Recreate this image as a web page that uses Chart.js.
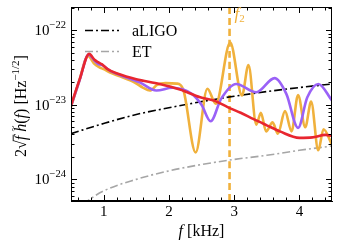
<!DOCTYPE html>
<html>
<head>
<meta charset="utf-8">
<script src="https://cdn.jsdelivr.net/npm/chart.js@4.4.0/dist/chart.umd.min.js"></script>
<style>
  html, body { margin: 0; padding: 0; background: #fff; }
  #wrap { width: 340px; height: 249px; }
</style>
</head>
<body>
<div id="wrap"><canvas id="chart" width="340" height="249"></canvas></div>
<script>
// frequency in kHz, amplitude 2*sqrt(f)*|h(f)| in Hz^-1/2
const redFreq = [0.5, 0.63, 0.78, 0.86, 0.92, 0.97, 1.06, 1.22, 1.5, 1.86, 2.17, 2.48, 2.69, 2.9, 3.1, 3.3, 3.5, 3.7, 4.0, 4.2, 4.4, 4.5];
const redAmp = [9.8e-24, 2.15e-23, 4.8e-23, 4.0e-23, 3.7e-23, 3.5e-23, 3.0e-23, 2.6e-23, 2.2e-23, 1.9e-23, 1.6e-23, 1.26e-23, 1.14e-23, 9.3e-24, 7.8e-24, 6.4e-24, 5.3e-24, 4.4e-24, 3.6e-24, 3.65e-24, 3.95e-24, 3.8e-24];

const purpleFreq = [0.5, 0.63, 0.77, 0.86, 0.92, 0.98, 1.1, 1.25, 1.55, 1.81, 2.05, 2.35, 2.5, 2.64, 2.8, 3.03, 3.34, 3.62, 3.8, 3.98, 4.12, 4.29, 4.5];
const purpleAmp = [9.6e-24, 2.1e-23, 4.7e-23, 3.9e-23, 3.5e-23, 3.4e-23, 2.85e-23, 2.5e-23, 2.0e-23, 1.55e-23, 1.69e-23, 1.4e-23, 1.0e-23, 6.0e-24, 1.2e-23, 1.9e-23, 1.47e-23, 2.27e-23, 1.4e-23, 4.9e-24, 1.25e-23, 1.9e-23, 1.14e-23];

const orangeFreq = [0.5, 0.62, 0.76, 0.85, 0.93, 1.0, 1.1, 1.25, 1.47, 1.6, 1.71, 1.82, 1.95, 2.12, 2.22, 2.41, 2.59, 2.72, 2.94, 3.12, 3.22, 3.34, 3.41, 3.49, 3.59, 3.67, 3.78, 3.88, 3.98, 4.09, 4.18, 4.29, 4.37, 4.5];
const orangeAmp = [9.4e-24, 2.0e-23, 4.5e-23, 3.6e-23, 3.2e-23, 3.0e-23, 2.7e-23, 2.4e-23, 2.0e-23, 1.7e-23, 1.55e-23, 1.85e-23, 1.95e-23, 1.92e-23, 1.6e-23, 2.3e-24, 1.64e-23, 1.03e-23, 6.8e-23, 1.33e-23, 3.4e-23, 5.4e-24, 7.8e-24, 4.4e-24, 5.8e-24, 4.1e-24, 8.2e-24, 4.4e-24, 1.35e-23, 5.0e-24, 1.1e-23, 2.45e-24, 4.7e-24, 2.9e-24];

const ligoFreq = [0.5, 1, 1.5, 2, 2.5, 3, 3.5, 4, 4.5];
const ligoAmp = [4.1e-24, 5.6e-24, 7.4e-24, 9.1e-24, 1.1e-23, 1.3e-23, 1.5e-23, 1.7e-23, 1.9e-23];

const etFreq = [0.5, 0.75, 1, 1.5, 2, 2.5, 3, 3.5, 4, 4.5];
const etAmp = [3.3e-25, 5.1e-25, 7.0e-25, 1.0e-24, 1.3e-24, 1.58e-24, 1.85e-24, 2.1e-24, 2.45e-24, 2.8e-24];

const f2 = 2.93;
const xTicks = [1, 2, 3, 4];
const yTickExp = [-24, -23, -22];
const legendLabels = ['aLIGO', 'ET'];

const X_MIN = 0.5, X_MAX = 4.5;
const Y_MIN = 5.13e-25, Y_MAX = 2.04e-22;

const SERIF = '"Liberation Serif", "DejaVu Serif", serif';
const ORANGE = '#f0b13c';
const PURPLE = '#9a61f7';
const RED = '#e8262f';
const GRAY = '#a6a6a6';
const DASHDOT = [8, 3, 2, 3];

const pts = (xs, ys) => xs.map((x, i) => ({ x: x, y: ys[i] }));

function curve(data, color, width, order, dash) {
  return {
    data: data,
    borderColor: color,
    borderWidth: width,
    borderDash: dash || [],
    pointRadius: 0,
    fill: false,
    cubicInterpolationMode: 'monotone',
    clip: 0,
    order: order
  };
}

function drawRuns(ctx, runs, x, y) {
  let cx = x;
  runs.forEach(r => {
    ctx.font = r.font;
    const w = ctx.measureText(r.t).width;
    ctx.fillText(r.t, cx, y + (r.dy || 0));
    if (r.bar) {
      ctx.save();
      ctx.lineWidth = 0.9;
      ctx.beginPath();
      ctx.moveTo(cx - 1, y - r.size * 0.8);
      ctx.lineTo(cx + w + 1, y - r.size * 0.8);
      ctx.stroke();
      ctx.restore();
    }
    if (r.tilde) {
      ctx.save();
      ctx.font = '11px ' + SERIF;
      ctx.textAlign = 'center';
      ctx.fillText('~', cx + w * 0.6, y - r.size * 0.62);
      ctx.restore();
    }
    cx += w;
  });
  return cx - x;
}

function runsWidth(ctx, runs) {
  let w = 0;
  runs.forEach(r => { ctx.font = r.font; w += ctx.measureText(r.t).width; });
  return w;
}

const decor = {
  id: 'decor',
  afterDraw(chart) {
    const { ctx, chartArea: a, scales: { x, y } } = chart;
    ctx.save();
    ctx.strokeStyle = '#000';
    ctx.fillStyle = '#000';
    ctx.lineWidth = 1;
    ctx.strokeRect(a.left + 0.5, a.top + 0.5, a.width - 1, a.height - 1);

    // inward ticks on all four sides
    const tick = (x0, y0, x1, y1) => {
      ctx.beginPath(); ctx.moveTo(x0, y0); ctx.lineTo(x1, y1); ctx.stroke();
    };
    for (let k = 3; k <= 22; k++) {
      const v = k / 5;
      if (v <= X_MIN || v >= X_MAX) continue;
      const len = Number.isInteger(v) ? 6 : 3.5;
      const px = Math.round(x.getPixelForValue(v)) + 0.5;
      tick(px, a.bottom, px, a.bottom - len);
      tick(px, a.top, px, a.top + len);
    }
    for (let d = -25; d <= -22; d++) {
      for (let m = 1; m <= 9; m++) {
        const v = m * Math.pow(10, d);
        if (v <= Y_MIN || v >= Y_MAX) continue;
        const len = m === 1 ? 6 : 3.5;
        const py = Math.round(y.getPixelForValue(v)) + 0.5;
        tick(a.left, py, a.left + len, py);
        tick(a.right, py, a.right - len, py);
      }
    }

    // tick labels
    ctx.textBaseline = 'alphabetic';
    ctx.textAlign = 'center';
    ctx.font = '15px ' + SERIF;
    xTicks.forEach(v => ctx.fillText(String(v), x.getPixelForValue(v), a.bottom + 15));
    yTickExp.forEach(e => {
      const py = y.getPixelForValue(Math.pow(10, e));
      const runs = [
        { t: '10', font: '15px ' + SERIF },
        { t: '\u2212' + Math.abs(e), font: '10.5px ' + SERIF, dy: -7 }
      ];
      ctx.textAlign = 'left';
      const w = runsWidth(ctx, runs);
      drawRuns(ctx, runs, a.left - 5 - w, py + 5);
    });

    // x title
    const xt = [
      { t: 'f', font: 'italic 16px ' + SERIF },
      { t: ' [kHz]', font: '16px ' + SERIF }
    ];
    ctx.textAlign = 'left';
    const xw = runsWidth(ctx, xt);
    drawRuns(ctx, xt, (a.left + a.right) / 2 - xw / 2, 236);

    // y title
    const norm = '16px ' + SERIF, ital = 'italic 16px ' + SERIF;
    const yt = [
      { t: '2', font: norm },
      { t: '\u221a', font: norm },
      { t: 'f', font: ital, bar: true, size: 16 },
      { t: ' h', font: ital, tilde: true, size: 16 },
      { t: '(', font: norm },
      { t: 'f', font: ital },
      { t: ') [Hz', font: norm },
      { t: '\u22121/2', font: '11px ' + SERIF, dy: -7 },
      { t: ']', font: norm }
    ];
    ctx.save();
    ctx.translate(26, 106);
    ctx.rotate(-Math.PI / 2);
    const yw = runsWidth(ctx, yt);
    drawRuns(ctx, yt, -yw / 2, 0);
    ctx.restore();

    // f2 label next to the dashed line
    ctx.fillStyle = ORANGE;
    const fx = x.getPixelForValue(f2) + 5;
    drawRuns(ctx, [
      { t: 'f', font: 'italic 17px ' + SERIF },
      { t: '2', font: '11px ' + SERIF, dy: 3 }
    ], fx, 19);

    // legend for the detector curves
    const legendStyle = [
      { color: '#000', width: 1.6 },
      { color: GRAY, width: 1.6 }
    ];
    legendLabels.forEach((lab, i) => {
      const ly = 30 + i * 21;
      ctx.save();
      ctx.strokeStyle = legendStyle[i].color;
      ctx.lineWidth = legendStyle[i].width;
      ctx.setLineDash(DASHDOT);
      tick(85, ly + 0.5, 119, ly + 0.5);
      ctx.restore();
      ctx.fillStyle = '#000';
      ctx.font = '16px ' + SERIF;
      ctx.textAlign = 'left';
      ctx.fillText(lab, 132, ly + 6);
    });
    ctx.restore();
  }
};

new Chart(document.getElementById('chart'), {
  type: 'line',
  data: {
    datasets: [
      curve(pts(redFreq, redAmp), RED, 2.6, 1),
      curve(pts(purpleFreq, purpleAmp), PURPLE, 2.6, 2),
      curve(pts(orangeFreq, orangeAmp), ORANGE, 2.6, 3),
      curve(pts(ligoFreq, ligoAmp), '#000', 1.6, 4, DASHDOT),
      curve(pts(etFreq, etAmp), GRAY, 1.6, 5, DASHDOT),
      curve([{ x: f2, y: Y_MIN }, { x: f2, y: Y_MAX }], ORANGE, 2.6, 6, [7, 4])
    ]
  },
  options: {
    responsive: false,
    animation: false,
    layout: { padding: { left: 71, right: 8, top: 7, bottom: 48 } },
    plugins: { legend: { display: false }, tooltip: { enabled: false } },
    scales: {
      x: {
        type: 'linear', min: X_MIN, max: X_MAX, bounds: 'data',
        grid: { display: false, drawTicks: false },
        ticks: { display: false },
        border: { display: true, color: '#000' }
      },
      y: {
        type: 'logarithmic', min: Y_MIN, max: Y_MAX, bounds: 'data',
        grid: { display: false, drawTicks: false },
        ticks: { display: false },
        border: { display: true, color: '#000' }
      }
    }
  },
  plugins: [decor]
});
</script>
</body>
</html>
